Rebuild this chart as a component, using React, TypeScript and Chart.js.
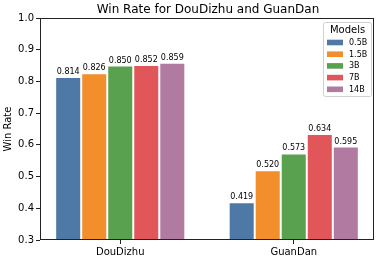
import React, { useEffect, useRef } from 'react';
import { Chart, registerables } from 'chart.js';

Chart.register(...registerables);

const categories = ['DouDizhu', 'GuanDan'];
const models = ['0.5B', '1.5B', '3B', '7B', '14B'];
const colors = ['#4e79a7', '#f28e2b', '#59a14f', '#e15759', '#b07aa1'];
const douDizhuRates = [0.814, 0.826, 0.85, 0.852, 0.859];
const guanDanRates = [0.419, 0.52, 0.573, 0.634, 0.595];
const yTickValues = [0.3, 0.4, 0.5, 0.6, 0.7, 0.8, 0.9, 1.0];
const chartTitle = 'Win Rate for DouDizhu and GuanDan';

const FONT = "'DejaVu Sans', sans-serif";

const framePlugin = {
  id: 'frame',
  afterDatasetsDraw(chart: any) {
    const { ctx, chartArea: a } = chart;
    ctx.save();
    ctx.strokeStyle = '#222';
    ctx.lineWidth = 1;
    ctx.strokeRect(a.left + 0.5, a.top + 0.5, a.right - a.left - 1, a.bottom - a.top - 1);
    ctx.restore();
  },
};

const titlePlugin = {
  id: 'customTitle',
  afterDraw(chart: any) {
    const { ctx, chartArea: a } = chart;
    ctx.save();
    ctx.font = `12px ${FONT}`;
    ctx.fillStyle = '#000';
    ctx.textAlign = 'center';
    ctx.textBaseline = 'alphabetic';
    ctx.fillText(chartTitle, (a.left + a.right) / 2 + 1, 12.7);
    ctx.restore();
  },
};

const valueLabelPlugin = {
  id: 'valueLabels',
  afterDatasetsDraw(chart: any) {
    const ctx = chart.ctx;
    ctx.save();
    ctx.font = `8px ${FONT}`;
    ctx.fillStyle = '#000';
    ctx.textAlign = 'center';
    ctx.textBaseline = 'bottom';
    chart.data.datasets.forEach((ds: any, di: number) => {
      const meta = chart.getDatasetMeta(di);
      meta.data.forEach((bar: any, i: number) => {
        const v = ds.data[i].y as number;
        ctx.fillText(v.toFixed(3), bar.x, bar.y - 1);
      });
    });
    ctx.restore();
  },
};

const legendPlugin = {
  id: 'innerLegend',
  afterDraw(chart: any) {
    const ctx = chart.ctx;
    const a = chart.chartArea;
    const w = 48;
    const h = 74;
    const x = a.right - 3 - w;
    const y = a.top + 4;
    ctx.save();
    ctx.beginPath();
    if (ctx.roundRect) ctx.roundRect(x + 0.5, y + 0.5, w, h, 2);
    else ctx.rect(x + 0.5, y + 0.5, w, h);
    ctx.fillStyle = 'rgba(255,255,255,0.8)';
    ctx.fill();
    ctx.strokeStyle = '#d0d0d0';
    ctx.lineWidth = 1;
    ctx.stroke();
    ctx.fillStyle = '#000';
    ctx.font = `10px ${FONT}`;
    ctx.textAlign = 'center';
    ctx.textBaseline = 'middle';
    ctx.fillText('Models', x + w / 2 + 0.5, y + 8);
    ctx.font = `8px ${FONT}`;
    ctx.textAlign = 'left';
    models.forEach((m, i) => {
      const cy = y + 20.5 + i * 11.7;
      ctx.fillStyle = colors[i];
      ctx.fillRect(x + 4, cy - 2.8, 16, 5.6);
      ctx.fillStyle = '#000';
      ctx.fillText(m, x + 26, cy + 0.5);
    });
    ctx.restore();
  },
};

export default function App() {
  const ref = useRef<HTMLCanvasElement | null>(null);

  useEffect(() => {
    document.body.style.margin = '0';
    if (!ref.current) return;
    const datasets = models.map((m, i) => ({
      label: m,
      data: [
        { x: 0, y: douDizhuRates[i] },
        { x: 1, y: guanDanRates[i] },
      ],
      backgroundColor: colors[i],
      borderColor: 'rgba(255,255,255,0.55)',
      borderWidth: 1,
      borderSkipped: 'start',
      categoryPercentage: 0.75,
      barPercentage: 1.0,
    }));

    const chart = new Chart(ref.current, {
      type: 'bar',
      data: { datasets } as any,
      plugins: [framePlugin, valueLabelPlugin, legendPlugin, titlePlugin],
      options: {
        animation: false,
        responsive: false,
        maintainAspectRatio: false,
        layout: { padding: { left: 0, right: 6, top: 18, bottom: 0 } },
        plugins: {
          legend: { display: false },
          tooltip: { enabled: false },
          title: { display: false },
        },
        scales: {
          x: {
            type: 'linear',
            min: -0.4625,
            max: 1.4625,
            offset: false,
            grid: {
              display: true,
              offset: false,
              drawOnChartArea: false,
              drawTicks: true,
              tickLength: 4,
              tickColor: '#222',
            },
            border: { display: false },
            afterBuildTicks: (scale: any) => {
              scale.ticks = categories.map((_, i) => ({ value: i }));
            },
            afterFit: (scale: any) => {
              scale.height = 19;
            },
            ticks: {
              autoSkip: false,
              maxRotation: 0,
              padding: 2,
              color: '#000',
              font: { family: FONT, size: 10 },
              callback: (v: any) => categories[Math.round(Number(v))] ?? '',
            },
          },
          y: {
            type: 'linear',
            min: 0.3,
            max: 1.0,
            grid: {
              display: true,
              drawOnChartArea: false,
              drawTicks: true,
              tickLength: 4,
              tickColor: '#222',
            },
            border: { display: false },
            afterBuildTicks: (scale: any) => {
              scale.ticks = yTickValues.map((v) => ({ value: v }));
            },
            afterFit: (scale: any) => {
              scale.width = 40;
            },
            ticks: {
              padding: 2,
              color: '#000',
              font: { family: FONT, size: 10 },
              callback: (v: any) => Number(v).toFixed(1),
            },
            title: {
              display: true,
              text: 'Win Rate',
              color: '#000',
              font: { family: FONT, size: 10 },
              padding: { top: 2, bottom: 0 },
            },
          },
        },
      } as any,
    });
    return () => chart.destroy();
  }, []);

  return (
    <div style={{ width: 380, height: 259 }}>
      <canvas ref={ref} width={380} height={259} style={{ display: 'block' }} />
    </div>
  );
}
